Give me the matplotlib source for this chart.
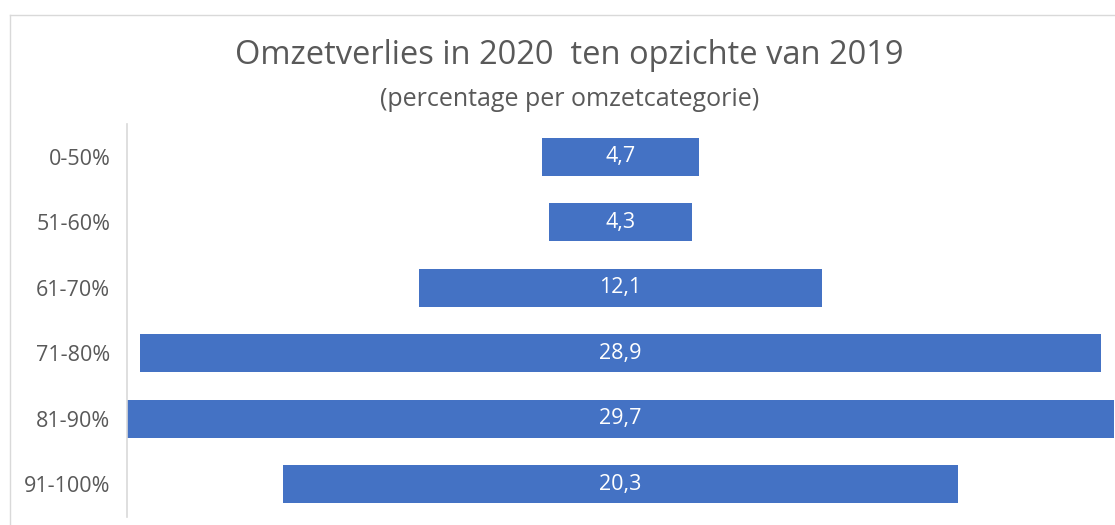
import matplotlib.pyplot as plt
from matplotlib.lines import Line2D

categories = ['0-50%', '51-60%', '61-70%', '71-80%', '81-90%', '91-100%']
values = [4.7, 4.3, 12.1, 28.9, 29.7, 20.3]
labels = ['4,7', '4,3', '12,1', '28,9', '29,7', '20,3']

plt.rcParams['font.family'] = ['Open Sans', 'DejaVu Sans']

W, H = 1115, 525
fig = plt.figure(figsize=(W / 100, H / 100), dpi=100)
ax = fig.add_axes([127 / W, 1 - 517 / H, (1114 - 127) / W, (517 - 124) / H])

pos = list(range(len(categories)))
lefts = [-v / 2 for v in values]
ax.barh(pos, values, left=lefts, height=0.58, color='#4472C4')

for p, lab in zip(pos, labels):
    ax.text(0, p, lab, ha='center', va='center', color='white', fontsize=15.5)

ax.set_xlim(-14.85, 14.85)
ax.set_ylim(len(categories) - 0.5, -0.5)
ax.set_yticks(pos)
ax.set_yticklabels(categories, fontsize=15.5, color='#595959')
ax.tick_params(axis='y', length=0, pad=12)
ax.set_xticks([])
for s in ['top', 'right', 'bottom']:
    ax.spines[s].set_visible(False)
ax.spines['left'].set_color('#D9D9D9')
ax.spines['left'].set_linewidth(1.2)

fig.text(569 / W, 1 - 55 / H, 'Omzetverlies in 2020  ten opzichte van 2019',
         ha='center', va='center', fontsize=23.5, color='#595959')
fig.text(570 / W, 1 - 99 / H, '(percentage per omzetcategorie)',
         ha='center', va='center', fontsize=18, color='#595959')

# chart border
fig.add_artist(Line2D([10 / W, 1], [1 - 15 / H, 1 - 15 / H], color='#D9D9D9', lw=1))
fig.add_artist(Line2D([10 / W, 10 / W], [0, 1 - 15 / H], color='#D9D9D9', lw=1))

fig.savefig('out.png', dpi=100)
